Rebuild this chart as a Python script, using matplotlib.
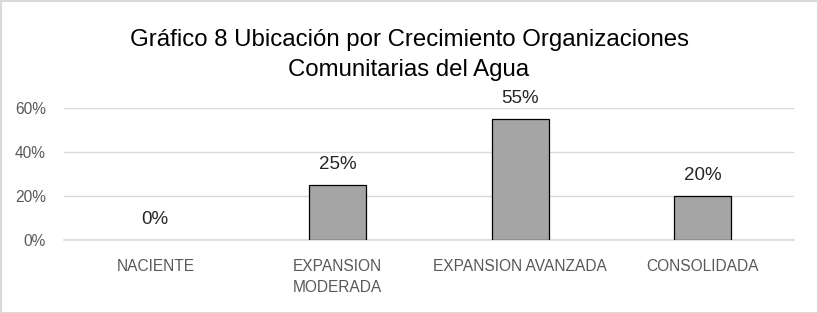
import matplotlib.pyplot as plt
from matplotlib.patches import Rectangle

categories = ["NACIENTE", "EXPANSION\nMODERADA", "EXPANSION AVANZADA", "CONSOLIDADA"]
values = [0.0, 0.25, 0.55, 0.20]
value_labels = ["0%", "25%", "55%", "20%"]
y_ticks = [0.0, 0.2, 0.4, 0.6]
y_tick_labels = ["0%", "20%", "40%", "60%"]
title = "Gráfico 8 Ubicación por Crecimiento Organizaciones\nComunitarias del Agua"

plt.rcParams["font.family"] = ["Liberation Sans", "DejaVu Sans"]

W, H = 818, 313
fig = plt.figure(figsize=(W / 100, H / 100), dpi=100)
ax = fig.add_axes([64 / W, 73 / H, 730 / W, 132 / H])

x = range(len(categories))
# zero-height bar shows no outline in the original
edges = ["black" if v > 0 else "none" for v in values]
ax.bar(x, values, width=0.31, color="#a5a5a5", edgecolor=edges, linewidth=0.9, zorder=3)

for xi, v, lab in zip(x, values, value_labels):
    ax.annotate(lab, (xi, v), xytext=(0, 14.5), textcoords="offset points",
                ha="center", va="center", fontsize=13.5, color="#262626")

ax.set_xlim(-0.5, len(categories) - 0.5)
ax.set_ylim(0, 0.6)
ax.set_yticks(y_ticks)
ax.set_yticklabels(y_tick_labels)
ax.set_xticks(list(x))
ax.set_xticklabels(categories, linespacing=1.5)
ax.tick_params(axis="both", length=0, colors="#595959", labelsize=11.2)
ax.tick_params(axis="x", pad=14)
ax.tick_params(axis="y", pad=13)
ax.grid(axis="y", color="#d9d9d9", linewidth=1, zorder=0)
ax.axhline(0, color="#d9d9d9", linewidth=1.2, zorder=1, clip_on=False)
for s in ax.spines.values():
    s.set_visible(False)

fig.text(0.5, 1 - 55 / H, title, ha="center", va="center", fontsize=17.3,
         color="black", linespacing=1.45)

fig.patches.append(Rectangle((0.5 / W, 0.5 / H), 1 - 1 / W, 1 - 1 / H, transform=fig.transFigure,
                             fill=False, edgecolor="#d9d9d9", linewidth=1.5))

fig.savefig("out.png", dpi=100)
